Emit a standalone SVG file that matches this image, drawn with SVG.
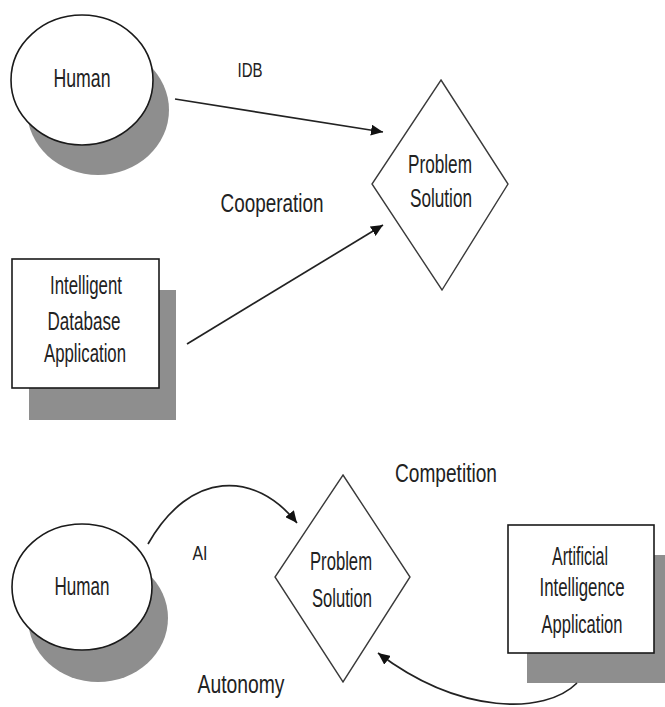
<svg xmlns="http://www.w3.org/2000/svg" width="665" height="707" viewBox="0 0 665 707">
<style>
.bg{fill:#ffffff}
.shadow{fill:#8e8e8e;stroke:none}
.node{fill:#ffffff;stroke:#1a1a1a;stroke-width:1.6}
.dia{fill:#ffffff;stroke:#3a3a3a;stroke-width:1.4}
.conn{fill:none;stroke:#222222;stroke-width:1.7}
text{font-family:"Liberation Sans",Arial,sans-serif;fill:#222222;text-anchor:middle}
.lbl{font-size:25px}
.sm{font-size:20px}
</style>
<defs>
<marker id="ah" markerUnits="userSpaceOnUse" markerWidth="13" markerHeight="11" refX="12" refY="5.5" orient="auto">
<path d="M0,0 L12,5.5 L0,11 Z" fill="#111111"/>
</marker>
</defs>
<rect class="bg" x="0" y="0" width="665" height="707"/>

<g id="human-top">
<ellipse class="shadow" cx="98" cy="110" rx="71" ry="65"/>
<ellipse class="node" cx="82" cy="80" rx="71" ry="65"/>
<text class="lbl" x="82" y="87" textLength="57" lengthAdjust="spacingAndGlyphs">Human</text>
</g>

<g id="solution-top">
<polygon class="dia" points="441,80 508,184 442,290 372,184"/>
<text class="lbl" x="440" y="173" textLength="64" lengthAdjust="spacingAndGlyphs">Problem</text>
<text class="lbl" x="441" y="207" textLength="62" lengthAdjust="spacingAndGlyphs">Solution</text>
</g>

<g id="idb-app">
<rect class="shadow" x="29" y="290" width="147" height="130"/>
<rect class="node" x="12" y="259" width="147" height="129"/>
<text class="lbl" x="86" y="294" textLength="72" lengthAdjust="spacingAndGlyphs">Intelligent</text>
<text class="lbl" x="84" y="330" textLength="73" lengthAdjust="spacingAndGlyphs">Database</text>
<text class="lbl" x="85" y="362" textLength="82" lengthAdjust="spacingAndGlyphs">Application</text>
</g>

<g id="human-bottom">
<ellipse class="shadow" cx="98" cy="618" rx="70" ry="64"/>
<ellipse class="node" cx="82" cy="587" rx="70" ry="63"/>
<text class="lbl" x="82" y="595" textLength="55" lengthAdjust="spacingAndGlyphs">Human</text>
</g>

<g id="solution-bottom">
<polygon class="dia" points="343,475 410,577 343,682 275,577"/>
<text class="lbl" x="341" y="570" textLength="62" lengthAdjust="spacingAndGlyphs">Problem</text>
<text class="lbl" x="342" y="607" textLength="60" lengthAdjust="spacingAndGlyphs">Solution</text>
</g>

<g id="ai-app">
<rect class="shadow" x="527" y="555" width="146" height="128"/>
<rect class="node" x="508" y="525" width="146" height="128"/>
<text class="lbl" x="580" y="565" textLength="56" lengthAdjust="spacingAndGlyphs">Artificial</text>
<text class="lbl" x="582" y="596" textLength="85" lengthAdjust="spacingAndGlyphs">Intelligence</text>
<text class="lbl" x="582" y="633" textLength="81" lengthAdjust="spacingAndGlyphs">Application</text>
</g>

<g id="connectors">
<line class="conn" x1="175" y1="99" x2="383" y2="132" marker-end="url(#ah)"/>
<line class="conn" x1="187" y1="344" x2="383" y2="225" marker-end="url(#ah)"/>
<path class="conn" d="M148,544 C190,470 255,470 297,523" marker-end="url(#ah)"/>
<path class="conn" d="M577,683 C545,715 460,715 378,653" marker-end="url(#ah)"/>
</g>

<g id="labels">
<text class="sm" x="250" y="77" textLength="25" lengthAdjust="spacingAndGlyphs">IDB</text>
<text class="lbl" x="272" y="212" textLength="103" lengthAdjust="spacingAndGlyphs">Cooperation</text>
<text class="lbl" x="446" y="482" textLength="102" lengthAdjust="spacingAndGlyphs">Competition</text>
<text class="sm" x="200" y="560" textLength="15" lengthAdjust="spacingAndGlyphs">AI</text>
<text class="lbl" x="241" y="693" textLength="87" lengthAdjust="spacingAndGlyphs">Autonomy</text>
</g>
</svg>
